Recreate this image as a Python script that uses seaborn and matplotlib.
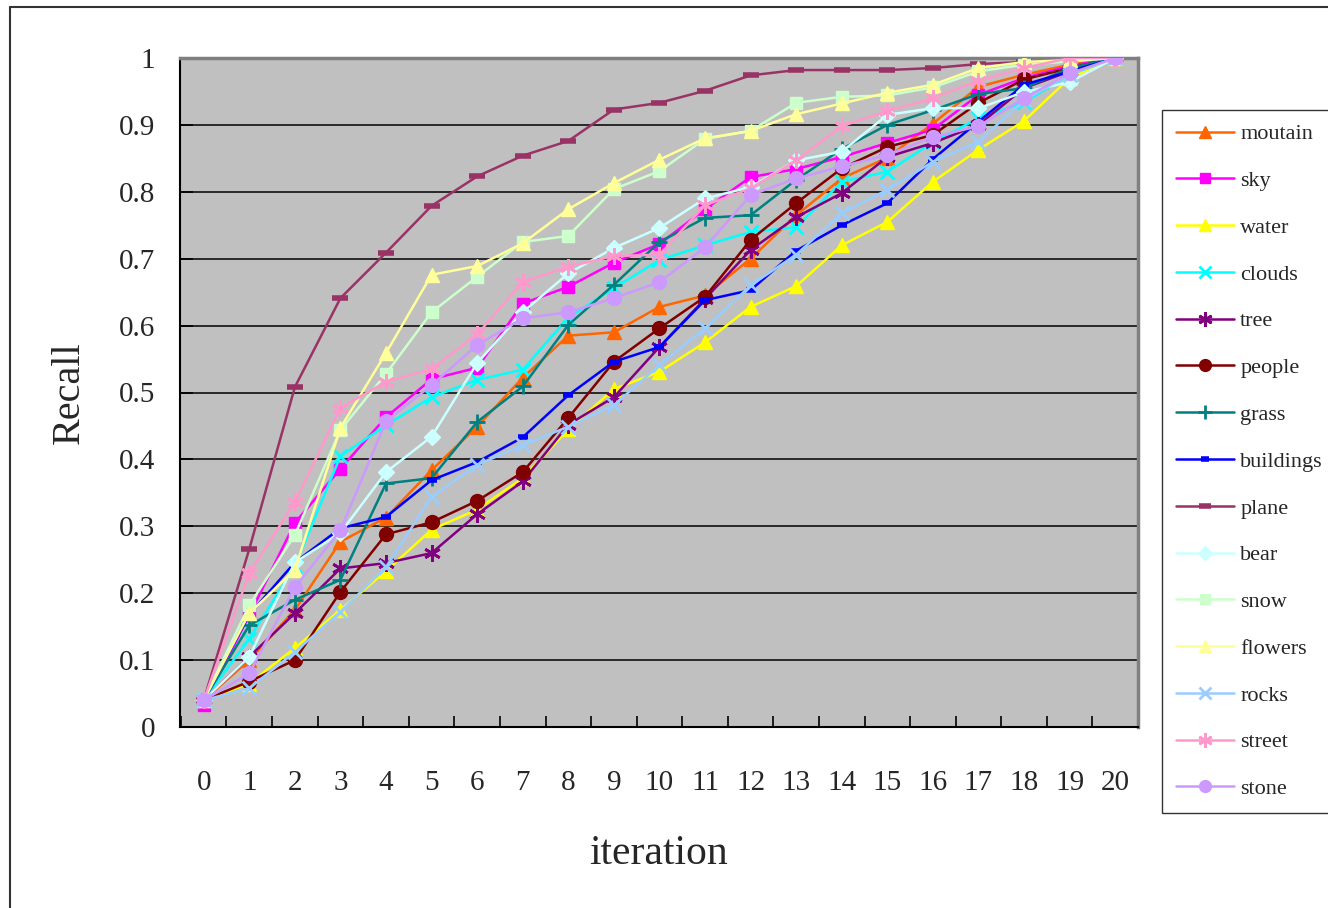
import matplotlib
matplotlib.use("Agg")
import matplotlib.pyplot as plt
import seaborn as sns
from matplotlib.lines import Line2D
from matplotlib.ticker import MultipleLocator

iterations = list(range(21))

moutain = [0.04, 0.10, 0.175, 0.277, 0.313, 0.384, 0.449, 0.522, 0.585, 0.590, 0.628,
           0.645, 0.700, 0.765, 0.820, 0.851, 0.902, 0.957, 0.975, 0.990, 1.0]
sky = [0.033, 0.167, 0.305, 0.386, 0.463, 0.520, 0.537, 0.633, 0.658, 0.694, 0.722,
       0.774, 0.822, 0.834, 0.852, 0.873, 0.893, 0.945, 0.970, 0.988, 1.0]
water = [0.04, 0.065, 0.118, 0.175, 0.233, 0.295, 0.325, 0.372, 0.445, 0.505, 0.531,
         0.575, 0.628, 0.659, 0.720, 0.755, 0.815, 0.863, 0.906, 0.970, 1.0]
clouds = [0.04, 0.132, 0.240, 0.405, 0.451, 0.493, 0.519, 0.534, 0.612, 0.656, 0.698,
          0.720, 0.740, 0.747, 0.815, 0.830, 0.874, 0.910, 0.934, 0.975, 1.0]
tree = [0.04, 0.105, 0.170, 0.237, 0.245, 0.260, 0.318, 0.367, 0.452, 0.493, 0.568,
        0.640, 0.713, 0.762, 0.798, 0.852, 0.873, 0.900, 0.955, 0.980, 1.0]
people = [0.04, 0.068, 0.100, 0.202, 0.288, 0.306, 0.338, 0.381, 0.462, 0.546, 0.596,
          0.643, 0.728, 0.783, 0.835, 0.867, 0.885, 0.933, 0.968, 0.985, 1.0]
grass = [0.04, 0.152, 0.190, 0.220, 0.364, 0.372, 0.456, 0.509, 0.601, 0.661, 0.725,
         0.761, 0.765, 0.818, 0.864, 0.900, 0.922, 0.946, 0.955, 0.985, 1.0]
buildings = [0.04, 0.168, 0.246, 0.297, 0.314, 0.369, 0.396, 0.433, 0.496, 0.546, 0.568,
             0.638, 0.653, 0.712, 0.750, 0.783, 0.849, 0.905, 0.960, 0.980, 1.0]
plane = [0.04, 0.266, 0.508, 0.641, 0.709, 0.779, 0.823, 0.854, 0.876, 0.923, 0.933,
         0.951, 0.974, 0.982, 0.982, 0.982, 0.985, 0.991, 0.994, 0.997, 1.0]
bear = [0.04, 0.105, 0.246, 0.290, 0.381, 0.434, 0.544, 0.620, 0.678, 0.716, 0.746,
        0.790, 0.807, 0.847, 0.860, 0.915, 0.925, 0.925, 0.949, 0.964, 1.0]
snow = [0.04, 0.182, 0.287, 0.444, 0.528, 0.620, 0.673, 0.725, 0.734, 0.804, 0.831,
        0.879, 0.891, 0.933, 0.942, 0.944, 0.956, 0.980, 0.990, 0.995, 1.0]
flowers = [0.04, 0.170, 0.235, 0.447, 0.559, 0.676, 0.689, 0.723, 0.774, 0.813, 0.848,
           0.880, 0.891, 0.916, 0.932, 0.948, 0.960, 0.985, 0.994, 0.997, 1.0]
rocks = [0.04, 0.058, 0.112, 0.172, 0.239, 0.344, 0.392, 0.421, 0.449, 0.481, 0.541,
         0.596, 0.660, 0.706, 0.768, 0.803, 0.845, 0.875, 0.937, 0.975, 1.0]
street = [0.04, 0.230, 0.336, 0.477, 0.516, 0.535, 0.587, 0.665, 0.688, 0.704, 0.706,
          0.780, 0.805, 0.847, 0.898, 0.921, 0.940, 0.966, 0.985, 1.0, 1.0]
stone = [0.04, 0.080, 0.209, 0.294, 0.457, 0.511, 0.571, 0.611, 0.620, 0.641, 0.665,
         0.717, 0.795, 0.820, 0.838, 0.855, 0.882, 0.898, 0.940, 0.977, 1.0]

names = ["moutain", "sky", "water", "clouds", "tree", "people", "grass", "buildings",
         "plane", "bear", "snow", "flowers", "rocks", "street", "stone"]
series = [moutain, sky, water, clouds, tree, people, grass, buildings,
          plane, bear, snow, flowers, rocks, street, stone]

# excel-ish palette + marker per series: (color, marker, size, edge width)
asterisk = (6, 2, 0)
styles = [
    ("#FF6600", "^", 10, 1),
    ("#FF00FF", "s", 9, 1),
    ("#FFFF00", "^", 10, 1),
    ("#00FFFF", "x", 10, 2),
    ("#800080", asterisk, 12, 2),
    ("#800000", "o", 10, 1),
    ("#008080", "+", 12, 2),
    ("#0000FF", "_", 7, 4),
    ("#993366", "_", 11, 4),
    ("#CCFFFF", "D", 8, 1),
    ("#CCFFCC", "s", 9, 1),
    ("#FFFF99", "^", 10, 1),
    ("#99CCFF", "x", 10, 2),
    ("#FF99CC", asterisk, 12, 2),
    ("#CC99FF", "o", 10, 1),
]

sns.set_style("white")
plt.rcParams["font.family"] = ["Liberation Serif", "DejaVu Serif"]

fig = plt.figure(figsize=(13.28, 9.08), dpi=100)
ax = fig.add_axes([180 / 1328, 181 / 908, 958 / 1328, 669 / 908])
ax.set_facecolor("#C0C0C0")

handles = []
for name, vals, (col, mk, ms, mew) in zip(names, series, styles):
    sns.lineplot(x=iterations, y=vals, ax=ax, color=col, marker=mk, markersize=ms,
                 markeredgewidth=mew, markeredgecolor=col, markerfacecolor=col,
                 linewidth=1.8, legend=False, zorder=3)
    handles.append(Line2D([], [], color=col, marker=mk, markersize=ms * 0.85,
                          markeredgewidth=mew, markeredgecolor=col,
                          markerfacecolor=col, linewidth=1.8, label=name))

ax.set_xlim(-0.52, 20.5)
ax.set_ylim(0, 1)
ax.set_xticks(iterations)
ax.set_xticklabels([str(i) for i in iterations])
ax.xaxis.set_minor_locator(MultipleLocator(1, offset=0.5))
ax.set_yticks([i / 10 for i in range(11)])
ax.set_yticklabels(["0"] + [f"0.{i}" for i in range(1, 10)] + ["1"])
ax.yaxis.grid(True, color="black", linewidth=1.1)
ax.set_axisbelow(True)

ax.tick_params(axis="x", which="major", length=0, pad=31, labelsize=21)
ax.tick_params(axis="x", which="minor", direction="in", length=8, width=1.2,
               color="black", bottom=True)
ax.tick_params(axis="y", which="major", direction="in", length=9, width=1.2,
               color="black", pad=18, labelsize=21, left=True)

for side in ["left", "bottom"]:
    ax.spines[side].set_color("black")
    ax.spines[side].set_linewidth(1.5)
for side in ["top", "right"]:
    ax.spines[side].set_color("#808080")
    ax.spines[side].set_linewidth(2.5)

ax.set_xlabel("iteration", fontsize=30, labelpad=28)
ax.set_ylabel("Recall", fontsize=29, labelpad=22)

leg = fig.legend(handles=handles, loc="upper left",
                 bbox_to_anchor=(1162 / 1328, 1 - 110 / 908), fontsize=16,
                 frameon=True, fancybox=False, handlelength=2.6, handletextpad=0.3,
                 labelspacing=1.18, borderpad=0.62, borderaxespad=0)
leg.get_frame().set_edgecolor("black")
leg.get_frame().set_linewidth(1.0)

# outer chart border (left and top edges visible)
fig.add_artist(Line2D([10 / 1328, 10 / 1328], [0, 1 - 7 / 908], transform=fig.transFigure,
                      color="#333333", linewidth=1.5))
fig.add_artist(Line2D([10 / 1328, 1], [1 - 7 / 908, 1 - 7 / 908], transform=fig.transFigure,
                      color="#333333", linewidth=1.5))

fig.savefig("out.png", dpi=100)
